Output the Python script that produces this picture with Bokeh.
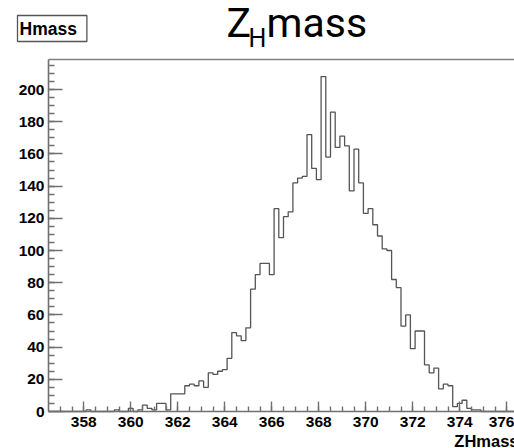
import numpy as np
from bokeh.plotting import figure
from bokeh.models import Range1d, FixedTicker, LinearAxis, Label
from bokeh.embed import file_html
from bokeh.resources import INLINE

# ---- data ----
bin_start = 356.5
bin_width = 0.2
counts = [0, 0, 0, 0, 0, 0, 0, 0, 1, 0,
          0, 0, 0, 0, 1, 0, 0, 2, 0, 1,
          4, 2, 1, 5, 5, 1, 11, 11, 11, 16,
          17, 16, 19, 15, 24, 23, 25, 26, 33, 49,
          47, 44, 52, 76, 85, 92, 92, 85, 126, 108,
          121, 124, 142, 145, 146, 172, 151, 144, 208, 158,
          186, 164, 171, 165, 137, 163, 142, 123, 126, 116,
          109, 101, 100, 82, 77, 53, 60, 39, 50, 50,
          29, 24, 27, 14, 17, 16, 3, 5, 7, 2,
          1, 1, 0, 0, 0, 0, 0, 0, 0, 0]
x_ticks = [358, 360, 362, 364, 366, 368, 370, 372, 374, 376]
y_ticks = [0, 20, 40, 60, 80, 100, 120, 140, 160, 180, 200]
y_max = 218.6
hist_name = "Hmass"
x_title = "ZHmass"

edges = bin_start + bin_width * np.arange(len(counts) + 1)
step_y = list(counts) + [counts[-1]]
x_end = bin_start + bin_width * len(counts)

W, H = 514, 448
px_x = 23.5      # pixels per x unit
px_y = 1.61      # pixels per count
left_px, bottom_px = 48, 448 - 411
x0 = bin_start - left_px / px_x
y0 = -bottom_px / px_y

p = figure(width=W, height=H, output_backend="svg", toolbar_location=None,
           x_range=Range1d(x0, x0 + W / px_x), y_range=Range1d(y0, y0 + H / px_y),
           x_axis_type=None, y_axis_type=None,
           min_border_left=0, min_border_right=0, min_border_top=0, min_border_bottom=0)
p.background_fill_color = "white"
p.border_fill_color = "white"
p.outline_line_color = None
p.grid.visible = False

p.step(x=edges, y=step_y, mode="after", line_color="#555555", line_width=1.3)

axis_col = "#707070"


def style(ax):
    ax.axis_line_color = axis_col
    ax.axis_line_width = 1.6
    ax.major_tick_line_color = axis_col
    ax.minor_tick_line_color = axis_col
    ax.major_tick_line_width = 1.4
    ax.minor_tick_line_width = 1.4
    ax.major_tick_out = 0
    ax.minor_tick_out = 0
    ax.major_label_text_font = "Liberation Sans"
    ax.major_label_text_font_style = "bold"
    ax.major_label_text_font_size = "15.5px"
    ax.major_label_text_color = "black"


xb = LinearAxis(fixed_location=0, bounds=(bin_start, x_end),
                ticker=FixedTicker(ticks=x_ticks, minor_ticks=list(np.arange(357.0, 376.01, 0.5))))
style(xb)
xb.major_tick_in = 10
xb.minor_tick_in = 5
xb.major_label_standoff = 5
p.add_layout(xb, "below")

yl = LinearAxis(fixed_location=bin_start, bounds=(0, y_max),
                ticker=FixedTicker(ticks=y_ticks, minor_ticks=list(range(5, 216, 5))))
style(yl)
yl.major_tick_in = 14
yl.minor_tick_in = 6
yl.major_label_standoff = 4
p.add_layout(yl, "left")

top = LinearAxis(fixed_location=y_max, bounds=(bin_start, x_end), ticker=FixedTicker(ticks=[]),
                 major_label_text_font_size="0px",
                 axis_line_color="#808080", axis_line_width=1.5,
                 major_tick_line_color=None, minor_tick_line_color=None)
p.add_layout(top, "above")

# x-axis title at right end
p.add_layout(Label(x=x_end, y=8, x_units="data", y_units="screen", text=x_title,
                   text_align="right", text_baseline="alphabetic",
                   text_font="Liberation Sans", text_font_style="bold",
                   text_font_size="16.5px", text_color="black"))

# title Z_H mass
p.add_layout(Label(x=226, y=426, x_units="screen", y_units="screen", text="Z",
                   text_baseline="alphabetic", text_font="Roboto",
                   text_font_size="41px", text_color="black"))
p.add_layout(Label(x=248, y=410, x_units="screen", y_units="screen", text="H",
                   text_baseline="alphabetic", text_font="Roboto",
                   text_font_size="25px", text_color="black"))
p.add_layout(Label(x=266, y=426, x_units="screen", y_units="screen", text="mass",
                   text_baseline="alphabetic", text_font="Roboto",
                   text_font_size="41px", text_color="black"))

# stat box
p.add_layout(Label(x=17, y=420, x_units="screen", y_units="screen", text=hist_name,
                   text_baseline="alphabetic", text_font="Liberation Sans",
                   text_font_style="bold", text_font_size="17.5px", text_color="black",
                   border_line_color="#555555", border_line_width=1.3,
                   background_fill_color="white",
                   padding=dict(left=2, right=10, top=3, bottom=3)))

open("out.html", "w").write(file_html(p, INLINE))
